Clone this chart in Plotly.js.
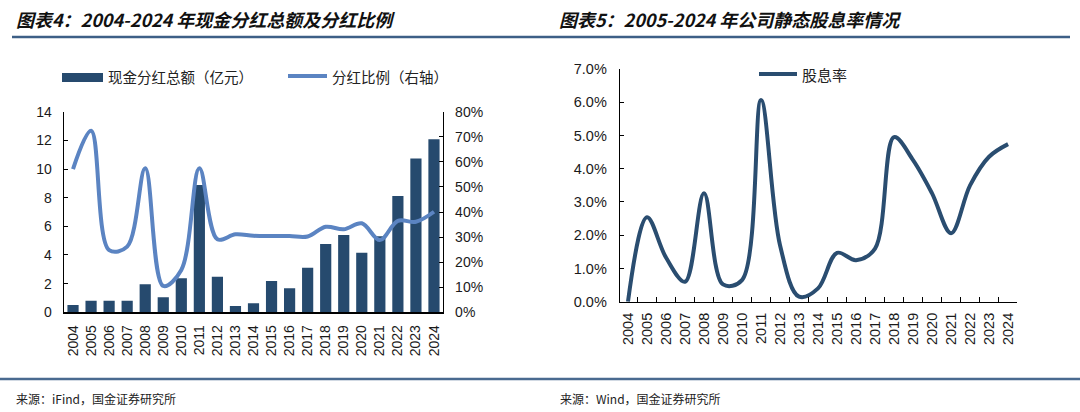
<!DOCTYPE html>
<html>
<head>
<meta charset="utf-8">
<script src="https://cdn.plot.ly/plotly-3.0.1.min.js"></script>
<style>
html,body{margin:0;padding:0;background:#fff;}
#chart{width:1080px;height:412px;}
</style>
</head>
<body>
<div id="chart"></div>
<script>
// ---- data ----
const years = ["2004","2005","2006","2007","2008","2009","2010","2011","2012","2013","2014",
               "2015","2016","2017","2018","2019","2020","2021","2022","2023","2024"];
const dividendTotal = [0.51,0.81,0.81,0.81,1.95,1.05,2.37,8.88,2.48,0.44,0.63,
                       2.18,1.67,3.11,4.77,5.39,4.16,5.30,8.12,10.74,12.07]; // 亿元
const payoutRatio = [0.571,0.724,0.248,0.262,0.574,0.105,0.169,0.574,0.291,0.311,0.305,
                     0.304,0.304,0.302,0.341,0.331,0.355,0.288,0.365,0.361,0.401];
const dividendYield = [0.0000,0.0254,0.0133,0.0060,0.0326,0.0052,0.0065,0.0607,0.0170,0.0015,0.0040,
                       0.0147,0.0125,0.0160,0.0495,0.0426,0.0326,0.0206,0.0350,0.0436,0.0474];

const titleLeft = "图表4：2004-2024 年现金分红总额及分红比例";
const titleRight = "图表5：2005-2024 年公司静态股息率情况";
const legendBar = "现金分红总额（亿元）";
const legendLine = "分红比例（右轴）";
const legendYield = "股息率";
const sourceLeft = "来源：iFind，国金证券研究所";
const sourceRight = "来源：Wind，国金证券研究所";

// ---- helpers (pixel -> paper) ----
const W = 1080, H = 412;
const px = x => x / W;
const py = y => 1 - y / H;

const barColor = "#264a6e";
const ratioColor = "#5b84c2";
const yieldColor = "#2a4d70";
const numFont = {family: "Liberation Sans, Arial, sans-serif", size: 14, color: "#1a1a1a"};
const cjk = "Noto Sans CJK SC, sans-serif";

const traces = [
  {type: "bar", x: years, y: dividendTotal, xaxis: "x", yaxis: "y",
   marker: {color: barColor, line: {width: 0}}, name: legendBar, showlegend: false},
  {type: "scatter", mode: "lines", x: years, y: payoutRatio, xaxis: "x", yaxis: "y2",
   line: {color: ratioColor, width: 4, shape: "spline", smoothing: 1}, name: legendLine, showlegend: false},
  {type: "scatter", mode: "lines", x: years, y: dividendYield, xaxis: "x2", yaxis: "y3",
   line: {color: yieldColor, width: 4, shape: "spline", smoothing: 1}, name: legendYield, showlegend: false}
];

const layout = {
  width: W, height: H,
  margin: {l: 0, r: 0, t: 0, b: 0},
  paper_bgcolor: "#fff", plot_bgcolor: "rgba(0,0,0,0)",
  bargap: 0.38,
  showlegend: false,
  xaxis: {
    domain: [px(64), px(443)], anchor: "y", type: "category",
    showline: true, linecolor: "#000", linewidth: 1.3, ticks: "", showgrid: false,
    tickangle: -90, tickfont: numFont, ticklabelstandoff: 6, fixedrange: true
  },
  yaxis: {
    domain: [py(312.3), py(111.7)], anchor: "x", range: [0, 14], dtick: 2,
    showline: true, linecolor: "#000", linewidth: 1.3, ticks: "inside", ticklen: 4, tickcolor: "#000",
    showgrid: false, zeroline: false, tickfont: numFont, ticklabelstandoff: 8, fixedrange: true
  },
  yaxis2: {
    overlaying: "y", side: "right", anchor: "x", range: [0, 0.8], dtick: 0.1, tickformat: ".0%",
    showline: true, linecolor: "#000", linewidth: 1.3, ticks: "inside", ticklen: 4, tickcolor: "#000",
    showgrid: false, zeroline: false, tickfont: numFont, ticklabelstandoff: 8, fixedrange: true
  },
  xaxis2: {
    domain: [px(620), px(1017)], anchor: "y3", type: "category", range: [-0.42, 20.47],
    showline: true, linecolor: "#000", linewidth: 1.3, ticks: "inside", ticklen: 5, tickcolor: "#000",
    tickson: "boundaries", showgrid: false,
    tickangle: -90, tickfont: Object.assign({}, numFont, {size: 14.5}), ticklabelstandoff: 4, fixedrange: true
  },
  yaxis3: {
    domain: [py(301.7), py(69)], anchor: "x2", range: [0, 0.07], dtick: 0.01, tickformat: ".1%",
    showline: true, linecolor: "#000", linewidth: 1.3, ticks: "inside", ticklen: 4, tickcolor: "#000",
    showgrid: false, zeroline: false, tickfont: Object.assign({}, numFont, {size: 14.5}), ticklabelstandoff: 9, fixedrange: true
  },
  shapes: [
    // header rule
    {type: "line", xref: "paper", yref: "paper", x0: px(12), x1: px(1070), y0: py(37), y1: py(37),
     line: {color: "#3d5f86", width: 2.5}},
    // footer rule
    {type: "line", xref: "paper", yref: "paper", x0: px(0), x1: px(1080), y0: py(379), y1: py(379),
     line: {color: "#4a6a90", width: 2.5}},
    // legend swatches
    {type: "rect", xref: "paper", yref: "paper", x0: px(62), x1: px(103), y0: py(82), y1: py(73),
     fillcolor: barColor, line: {width: 0}},
    {type: "line", xref: "paper", yref: "paper", x0: px(288), x1: px(327), y0: py(76), y1: py(76),
     line: {color: ratioColor, width: 4}},
    {type: "line", xref: "paper", yref: "paper", x0: px(759), x1: px(797), y0: py(74), y1: py(74),
     line: {color: yieldColor, width: 4}}
  ],
  annotations: [
    {xref: "paper", yref: "paper", x: px(14), y: py(19), xanchor: "left", yanchor: "middle", showarrow: false,
     text: "<b><i>" + titleLeft + "</i></b>", font: {family: cjk, size: 18, color: "#111"}},
    {xref: "paper", yref: "paper", x: px(557), y: py(19), xanchor: "left", yanchor: "middle", showarrow: false,
     text: "<b><i>" + titleRight + "</i></b>", font: {family: cjk, size: 18, color: "#111"}},
    {xref: "paper", yref: "paper", x: px(106), y: py(76), xanchor: "left", yanchor: "middle", showarrow: false,
     text: legendBar, font: {family: cjk, size: 14.5, color: "#222"}},
    {xref: "paper", yref: "paper", x: px(330), y: py(76), xanchor: "left", yanchor: "middle", showarrow: false,
     text: legendLine, font: {family: cjk, size: 14.5, color: "#222"}},
    {xref: "paper", yref: "paper", x: px(800), y: py(74), xanchor: "left", yanchor: "middle", showarrow: false,
     text: legendYield, font: {family: cjk, size: 15, color: "#222"}},
    {xref: "paper", yref: "paper", x: px(14), y: py(398), xanchor: "left", yanchor: "middle", showarrow: false,
     text: sourceLeft, font: {family: cjk, size: 12, color: "#222"}},
    {xref: "paper", yref: "paper", x: px(558), y: py(398), xanchor: "left", yanchor: "middle", showarrow: false,
     text: sourceRight, font: {family: cjk, size: 12, color: "#222"}}
  ]
};

Plotly.newPlot("chart", traces, layout, {staticPlot: true, displayModeBar: false});
</script>
</body>
</html>
